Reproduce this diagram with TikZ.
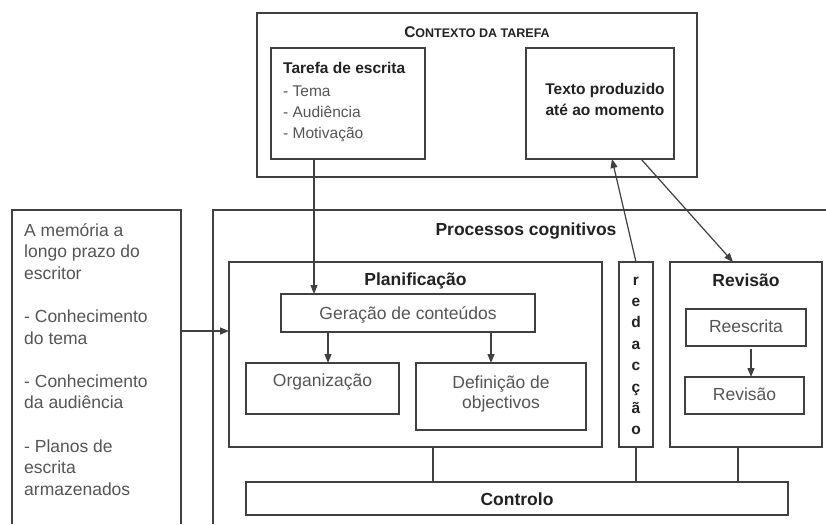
\documentclass[tikz,border=0pt]{standalone}
\usepackage{fontspec}
\setmainfont{Liberation Sans}
\usetikzlibrary{arrows.meta,calc}
\definecolor{linec}{HTML}{404040}
\definecolor{txtc}{HTML}{555555}
\definecolor{boldc}{HTML}{222222}
\begin{document}
\begin{tikzpicture}[x=1pt,y=-1pt,
  box/.style={draw=linec,line width=1.2pt,inner sep=0pt,outer sep=0pt},
  arr/.style={draw=linec,line width=1.2pt,-{Triangle[length=9pt,width=7pt]}},
  con/.style={draw=linec,line width=1.2pt},
  nt/.style={inner sep=0pt,text=txtc,font=\fontsize{17.5}{21}\selectfont},
  st/.style={inner sep=0pt,text=txtc,font=\fontsize{15.5}{19}\selectfont},
  bt/.style={inner sep=0pt,text=boldc,font=\fontsize{17.5}{21}\selectfont\bfseries},
  sbt/.style={inner sep=0pt,text=boldc,font=\fontsize{15.5}{19}\selectfont\bfseries}]
\fill[white] (0,0) rectangle (826,524);
\useasboundingbox (0,0) rectangle (826,524);

% ---- boxes
\node[box,minimum width=440pt,minimum height=164pt] (ctx) at (477,95) {};
\node[box,minimum width=154pt,minimum height=111pt] (tar) at (348,103.5) {};
\node[box,minimum width=148pt,minimum height=111pt] (txt) at (600,103.5) {};
\node[box,minimum width=373pt,minimum height=185pt] (plan) at (415.5,354.5) {};
\node[box,minimum width=254pt,minimum height=38pt] (gen) at (408,313) {};
\node[box,minimum width=153pt,minimum height=51pt] (org) at (322.5,388.5) {};
\node[box,minimum width=170pt,minimum height=67pt] (def) at (501,396.5) {};
\node[box,minimum width=34pt,minimum height=185pt] (red) at (636,354.5) {};
\node[box,minimum width=152pt,minimum height=185pt] (revo) at (746,354.5) {};
\node[box,minimum width=120pt,minimum height=37pt] (rees) at (746,327.5) {};
\node[box,minimum width=119pt,minimum height=37pt] (revi) at (744.5,395.5) {};
\node[box,minimum width=542pt,minimum height=33pt] (ctrl) at (517,498.5) {};

% open boxes (cut by the picture edge)
\coordinate (memTL) at (12,210);
\coordinate (memTR) at (181,210);
\coordinate (procTL) at (213,210);
\draw[con] (12,524) -- (memTL) -- (memTR) -- (181,524);
\draw[con] (213,524) -- (procTL) -- (826,210);

% ---- texts
\node[sbt,anchor=base] (ctxT) at (477,37.7) {C{\fontsize{12.5}{15}\selectfont ONTEXTO DA TAREFA}};
\node[sbt,anchor=base west] (tarT) at (283,74) {Tarefa de escrita};
\node[st,anchor=base west] (tar1) at (283,96) {- Tema};
\node[st,anchor=base west] (tar2) at (283,117.3) {- Audiência};
\node[st,anchor=base west] (tar3) at (283,138) {- Motivação};
\node[sbt,anchor=base] (txtT1) at (605,95) {Texto produzido};
\node[sbt,anchor=base] (txtT2) at (605,116) {até ao momento};

\foreach \t [count=\i from 0] in {A memória a,longo prazo do,escritor,,- Conhecimento,do tema,,- Conhecimento,da audiência,,- Planos de,escrita,armazenados}
  \node[nt,anchor=base west] (mem\i) at (24,236+21.6*\i) {\t};

\node[bt,anchor=base] (procT) at (526,235) {Processos cognitivos};
\node[bt,anchor=base] (planT) at (415.5,285) {Planificação};
\node[nt,anchor=base] (genT) at (408,319.3) {Geração de conteúdos};
\node[nt,anchor=base] (orgT) at (322.5,386.7) {Organização};
\node[nt,anchor=base] (defT1) at (501,388.3) {Definição de};
\node[nt,anchor=base] (defT2) at (501,408) {objectivos};
\node[bt,anchor=base] (revT) at (746,286) {Revisão};
\node[nt,anchor=base] (reesT) at (746,332.7) {Reescrita};
\node[nt,anchor=base] (reviT) at (744.5,400) {Revisão};
\node[bt,anchor=base] (ctrlT) at (517,505) {Controlo};
\foreach \l [count=\i from 0] in {r,e,d,a,c,ç,ã,o}
  \node[sbt,anchor=base] (redL\i) at (636,285+21.4*\i) {\l};

% ---- connectors
\coordinate (tarO) at ([xshift=43pt]tar.south west);
\draw[arr] (tarO) -- (tarO |- gen.north);
\draw[arr] ([xshift=5.5pt]org.north |- gen.south) -- ([xshift=5.5pt]org.north);
\draw[arr] ([xshift=-10pt]def.north |- gen.south) -- ([xshift=-10pt]def.north);
\coordinate (memR) at (181,331);
\draw[arr] (memR) -- (memR -| plan.west);
\draw[arr] (red.north) -- ([xshift=12pt]txt.south);
\draw[arr] ([xshift=41pt]txt.south) -- ([xshift=-13pt]revo.north);
\draw[arr] ([xshift=5pt,yshift=-3pt]rees.south) -- ([xshift=5pt]rees.south |- revi.north);
\draw[con] ([xshift=17.5pt]plan.south) -- ([xshift=17.5pt]plan.south |- ctrl.north);
\draw[con] (red.south) -- (red.south |- ctrl.north);
\draw[con] ([xshift=-8pt]revo.south) -- ([xshift=-8pt]revo.south |- ctrl.north);
\end{tikzpicture}
\end{document}
